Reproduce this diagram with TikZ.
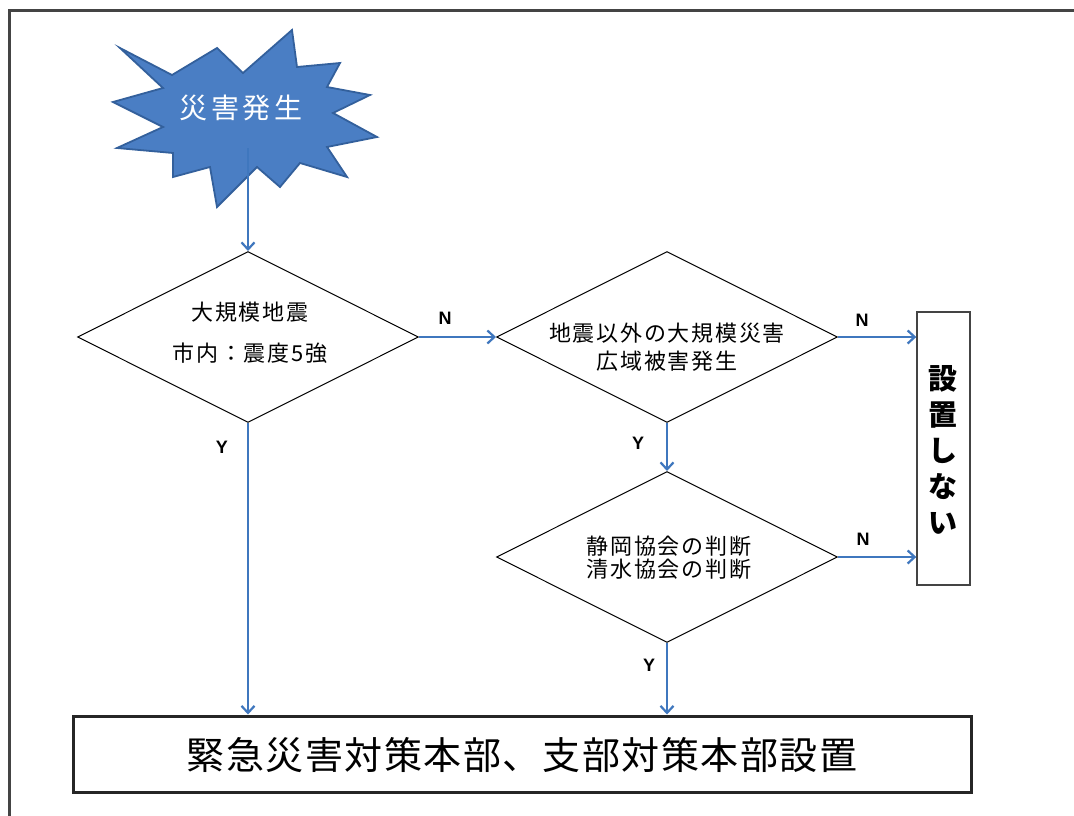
\documentclass[tikz,border=0pt]{standalone}
\usepackage{fontspec}
\setmainfont{Liberation Sans}
\newfontfamily\cjk{Noto Sans CJK JP}
\usetikzlibrary{shapes.geometric,arrows.meta}
\definecolor{flowblue}{HTML}{3F77BE}
\definecolor{starfill}{HTML}{4A7EC4}
\definecolor{staredge}{HTML}{33609C}
\definecolor{framegray}{HTML}{444444}
\tikzset{
  decision/.style={diamond, draw=black, line width=1pt, inner sep=0pt,
    minimum width=341pt, minimum height=171pt},
  dtext/.style={align=center, inner sep=0pt, font=\cjk\fontsize{22pt}{28pt}\selectfont\addfontfeature{LetterSpace=8}},
  flow/.style={draw=flowblue, line width=2.6pt, -{Straight Barb[length=7pt,width=13pt,line width=2.2pt]}},
  yn/.style={font=\bfseries\fontsize{18pt}{20pt}\selectfont, inner sep=0pt},
}
\begin{document}
\begin{tikzpicture}[x=1pt,y=-1pt]
\useasboundingbox (0,0) rectangle (1074,816);
\fill[white] (0,0) rectangle (1074,816);
% frame
\draw[framegray, line width=3pt] (9,816) -- (9,11) -- (1074,11);
% star burst
\draw[fill=starfill, draw=staredge, line width=1.8pt, line join=miter]
  (120,48) -- (172,75) -- (217,48) -- (243,73) -- (292,30) -- (297,67) --
  (340,63) -- (327,87) -- (370,95) -- (333,113) -- (377,137) -- (327,147) --
  (347,177) -- (300,163) -- (280,187) -- (257,167) -- (217,207) -- (210,167) --
  (173,177) -- (173,153) -- (117,148) -- (163,127) -- (113,102) -- (163,88) -- cycle;
\node[text=white, inner sep=0pt, font=\cjk\fontsize{28pt}{30pt}\selectfont\addfontfeature{LetterSpace=12}] (star) at (241,108) {災害発生};
\coordinate (starbase) at (248,148);
% decisions
\node[decision] (d1) at (248,337) {};
\node[dtext] (d1t) at (250,333) {大規模地震\\[13pt]市内：震度5強};
\node[decision] (d2) at (667,337) {};
\node[dtext] (d2t) at (667,347) {地震以外の大規模災害\\広域被害発生};
\node[decision] (d3) at (667,557) {};
\node[dtext, font=\cjk\fontsize{22pt}{23pt}\selectfont\addfontfeature{LetterSpace=8}] (d3t) at (669,558) {静岡協会の判断\\清水協会の判断};
% no box
\node[draw=framegray, line width=1.4pt, minimum width=53pt, minimum height=273pt, inner sep=0pt] (no) at (943.5,448.5) {};
\node[align=center, inner sep=0pt, font=\cjk\bfseries\fontsize{29pt}{36pt}\selectfont] (not) at (943,450) {設\\置\\し\\な\\い};
% final box
\node[draw=black!85, line width=3pt, minimum width=898pt, minimum height=76pt, inner sep=0pt] (fin) at (522,754) {};
\node[inner sep=0pt, font=\cjk\fontsize{38pt}{40pt}\selectfont\addfontfeature{LetterSpace=4}] (fint) at (522,755) {緊急災害対策本部、支部対策本部設置};
% connectors
\draw[flow] (starbase) -- (d1.north);
\draw[flow] (d1.east) -- (d2.west);
\draw[flow] (d2.east) -- (no.west |- d2.east);
\draw[flow] (d2.south) -- (d3.north);
\draw[flow] (d3.east) -- (no.west |- d3.east);
\draw[flow] (d1.south) -- (fin.north -| d1.south);
\draw[flow] (d3.south) -- (fin.north -| d3.south);
% labels
\node[yn] (n1) at (445,318) {N};
\node[yn] (n2) at (862,320) {N};
\node[yn] (n3) at (863,539) {N};
\node[yn] (y1) at (222,447) {Y};
\node[yn] (y2) at (638,443) {Y};
\node[yn] (y3) at (649,665) {Y};
\end{tikzpicture}
\end{document}
